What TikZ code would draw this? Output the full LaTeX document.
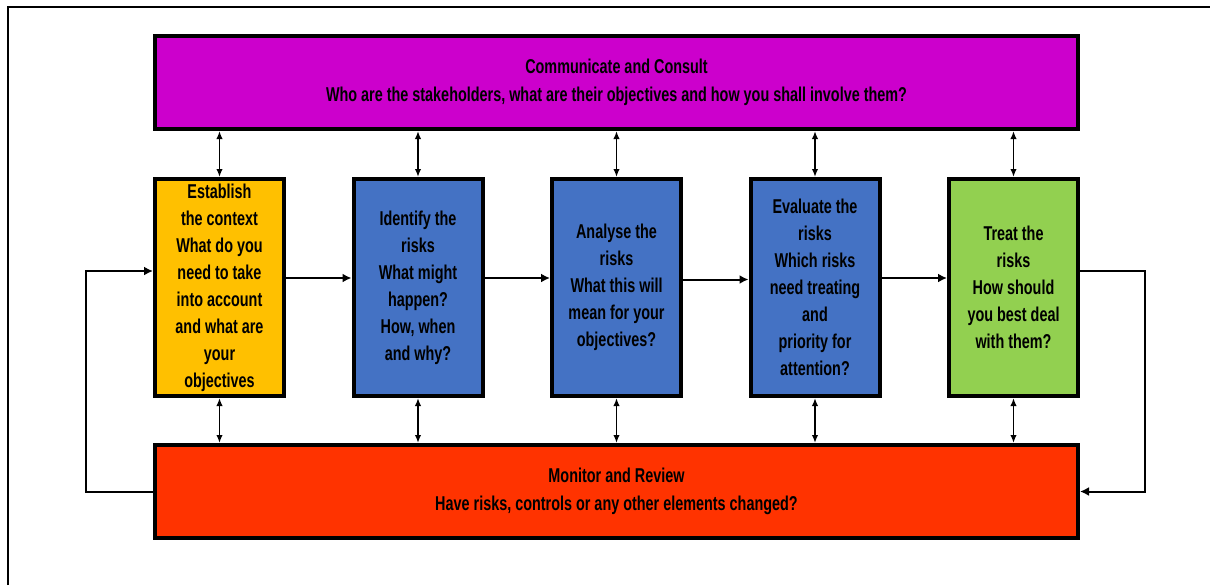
\documentclass[tikz,border=0pt]{standalone}
\usepackage{fontspec}
\setmainfont{Liberation Sans}[FakeStretch=0.72]
\usetikzlibrary{arrows.meta}

\definecolor{consult}{HTML}{CC00CC}
\definecolor{context}{HTML}{FFC000}
\definecolor{riskblue}{HTML}{4472C4}
\definecolor{treatgreen}{HTML}{92D050}
\definecolor{review}{HTML}{FF3300}

\begin{document}
\begin{tikzpicture}[x=0.5pt,y=-0.5pt,node distance=99.25pt,
	every node/.style={align=center,font=\bfseries\fontsize{10}{13.5}\selectfont},
	wide/.style={rectangle,draw,line width=2pt,minimum width=461.5pt,minimum height=46.5pt,inner sep=0pt,
		font=\bfseries\fontsize{10}{14.25}\selectfont},
	stage/.style={rectangle,draw,line width=2pt,minimum width=64.5pt,minimum height=108.5pt,inner sep=0pt},
	flow/.style={-{Latex[length=4.5pt,width=4.5pt]},line width=1pt},
	talk/.style={{Latex[length=4pt,width=3.2pt]}-{Latex[length=4pt,width=3.2pt]},line width=0.8pt}]
	\useasboundingbox (0,0) rectangle (1210,585);
	% frame
	\draw[line width=1pt] (8,585) -- (8,6.5) -- (1210,6.5);

	\node[wide,fill=consult] (comm) at (616.5,82.5) {Communicate and Consult\\Who are the stakeholders, what are their objectives and how you shall involve them?};

	\node[stage,fill=context] (est) at (219.5,287.5) {Establish\\the context\\What do you\\need to take\\into account\\and what are\\your\\objectives};
	\node[stage,fill=riskblue, right of=est] (ident) {Identify the\\risks\\What might\\happen?\\How, when\\and why?};
	\node[stage,fill=riskblue, right of=ident] (analyse) {Analyse the\\risks\\What this will\\mean for your\\objectives?};
	\node[stage,fill=riskblue, right of=analyse] (evaluate) {Evaluate the\\risks\\Which risks\\need treating\\and\\priority for\\attention?};
	\node[stage,fill=treatgreen, right of=evaluate] (treat) {Treat the\\risks\\How should\\you best deal\\with them?};

	\node[wide,fill=review] (mon) at (616.5,491.5) {Monitor and Review\\Have risks, controls or any other elements changed?};

	% consult and monitor links
	\foreach \n in {est,ident,analyse,evaluate,treat} {
		\draw[talk] (comm.south -| \n.north) -- (\n.north);
		\draw[talk] (\n.south) -- (\n.south |- mon.north);
	}

	% process steps
	\draw[flow] ([yshift=4.75pt]est.east) -- ([yshift=4.75pt]ident.west);
	\draw[flow] ([yshift=4.75pt]ident.east) -- ([yshift=4.75pt]analyse.west);
	\draw[flow] ([yshift=4pt]analyse.east) -- ([yshift=4pt]evaluate.west);
	\draw[flow] ([yshift=4.75pt]evaluate.east) -- ([yshift=4.75pt]treat.west);

	% feedback loops
	\coordinate (lft) at (86,0);
	\coordinate (rgt) at (1145,0);
	\draw[flow] (mon.west) -- (mon.west -| lft) -- ([yshift=8.25pt]est.west -| lft) -- ([yshift=8.25pt]est.west);
	\draw[flow] ([yshift=8.25pt]treat.east) -- ([yshift=8.25pt]treat.east -| rgt) -- (mon.east -| rgt) -- (mon.east);
\end{tikzpicture}
\end{document}
